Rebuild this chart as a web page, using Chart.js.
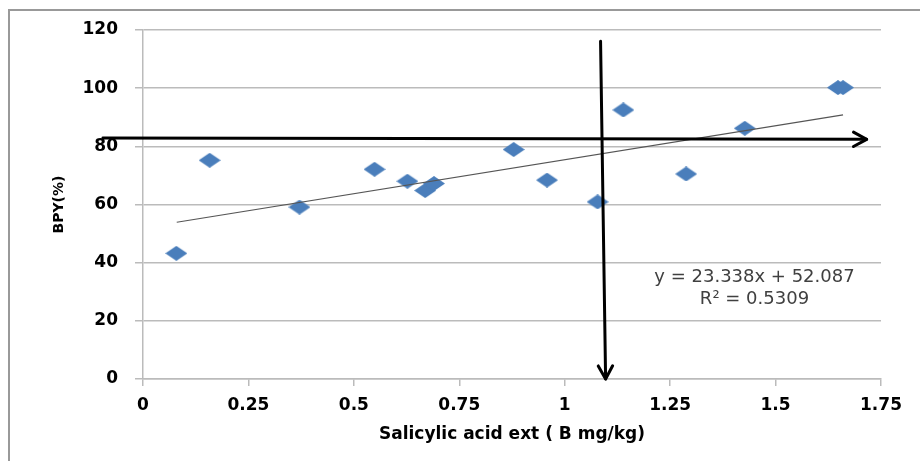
<!DOCTYPE html>
<html lang="en">
<head>
<meta charset="UTF-8" />
<title>BPY vs Salicylic acid ext</title>
<script src="https://cdn.jsdelivr.net/npm/chart.js"></script>
<style>
  html, body { margin: 0; padding: 0; background: #fff; overflow: hidden; }
  #frame { position: absolute; left: 8px; top: 9px; width: 1000px; height: 1000px;
           border-left: 2px solid #999; border-top: 2px solid #999; }
  #wrap { position: absolute; left: 0; top: 0; width: 920px; height: 461px; }
</style>
</head>
<body>
<div id="frame"></div>
<div id="wrap"><canvas id="chartBpy"></canvas></div>

<script>
  // values
  const salicylicB = [0.079, 0.158, 0.371, 0.549, 0.627, 0.669, 0.690, 0.879, 0.958, 1.078, 1.139, 1.288, 1.427, 1.648, 1.660];
  const bpyPercent = [43.2, 75.2, 59.1, 72.1, 68.0, 64.8, 67.2, 78.9, 68.4, 60.9, 92.5, 70.5, 86.2, 100.2, 100.2];

  // trendline end points as drawn (y = 23.338x + 52.087)
  const trendX = [0.08, 1.66];
  const trendY = [53.9, 90.8];

  // hand-drawn arrows (axis units)
  const hArrowX = [-0.095, 1.716];
  const hArrowY = [82.9, 82.4];
  const vArrowX = [1.085, 1.097];
  const vArrowY = [116.1, 0];

  const xTicks = [0, 0.25, 0.5, 0.75, 1, 1.25, 1.5, 1.75];
  const yTicks = [0, 20, 40, 60, 80, 100, 120];

  const equationLines = ['y = 23.338x + 52.087', 'R\u00B2 = 0.5309'];
  const equationAt = { x: 1.45, y: 35 };

  // Excel style diamond marker (a bit wider than tall)
  const diamond = document.createElement('canvas');
  diamond.width = 22; diamond.height = 15;
  const dctx = diamond.getContext('2d');
  dctx.fillStyle = '#4a7ebb';
  dctx.beginPath();
  dctx.moveTo(11, 0); dctx.lineTo(22, 7.5); dctx.lineTo(11, 15); dctx.lineTo(0, 7.5);
  dctx.closePath(); dctx.fill();

  const points = salicylicB.map((x, i) => ({ x: x, y: bpyPercent[i] }));
  const trend = trendX.map((x, i) => ({ x: x, y: trendY[i] }));

  function drawArrow(ctx, x1, y1, x2, y2) {
    const ang = Math.atan2(y2 - y1, x2 - x1);
    const len = 15, spread = 0.5;
    ctx.beginPath();
    ctx.moveTo(x1, y1); ctx.lineTo(x2, y2);
    ctx.stroke();
    ctx.beginPath();
    ctx.moveTo(x2 - len * Math.cos(ang - spread), y2 - len * Math.sin(ang - spread));
    ctx.lineTo(x2, y2);
    ctx.lineTo(x2 - len * Math.cos(ang + spread), y2 - len * Math.sin(ang + spread));
    ctx.stroke();
  }

  const extras = {
    id: 'extras',
    afterDatasetsDraw(chart) {
      const ctx = chart.ctx;
      const xs = chart.scales.x, ys = chart.scales.y;
      ctx.save();
      // equation label
      ctx.fillStyle = '#404040';
      ctx.font = '18px "DejaVu Sans"';
      ctx.textAlign = 'center';
      ctx.textBaseline = 'middle';
      const ex = xs.getPixelForValue(equationAt.x);
      const ey = ys.getPixelForValue(equationAt.y);
      equationLines.forEach((t, i) => ctx.fillText(t, ex, ey + i * 22));
      // arrows
      ctx.strokeStyle = '#000';
      ctx.lineWidth = 3;
      ctx.lineCap = 'round';
      ctx.lineJoin = 'round';
      drawArrow(ctx, xs.getPixelForValue(hArrowX[0]), ys.getPixelForValue(hArrowY[0]),
                     xs.getPixelForValue(hArrowX[1]), ys.getPixelForValue(hArrowY[1]));
      drawArrow(ctx, xs.getPixelForValue(vArrowX[0]), ys.getPixelForValue(vArrowY[0]),
                     xs.getPixelForValue(vArrowX[1]), ys.getPixelForValue(vArrowY[1]));
      ctx.restore();
    }
  };

  const tickFont = { family: '"DejaVu Sans"', size: 17, weight: 'bold' };

  new Chart(document.getElementById('chartBpy').getContext('2d'), {
    type: 'scatter',
    data: {
      datasets: [
        {
          label: 'BPY',
          data: points,
          pointStyle: diamond,
          pointRadius: 8,
          order: 2
        },
        {
          type: 'line',
          label: 'Trend',
          data: trend,
          borderColor: '#555',
          borderWidth: 1.2,
          pointRadius: 0,
          fill: false,
          order: 1
        }
      ]
    },
    options: {
      responsive: true,
      maintainAspectRatio: false,
      animation: false,
      layout: { padding: { top: 30, right: 39, bottom: 0, left: 0 } },
      plugins: { legend: { display: false }, tooltip: { enabled: false } },
      scales: {
        x: {
          type: 'linear',
          min: 0, max: 1.75,
          afterBuildTicks: s => { s.ticks = xTicks.map(v => ({ value: v })); },
          afterFit: s => { s.height = 82; },
          ticks: { font: tickFont, color: '#000', padding: 9, maxRotation: 0,
                   callback: v => String(v) },
          grid: { drawOnChartArea: false, drawTicks: true, tickLength: 7, color: '#bbb', lineWidth: 1.5 },
          border: { color: '#bbb', width: 1.5 },
          title: { display: true, text: 'Salicylic acid ext ( B mg/kg)', color: '#000',
                   font: { family: '"DejaVu Sans"', size: 17, weight: 'bold' },
                   padding: { top: 0, bottom: 16 } }
        },
        y: {
          min: 0, max: 120,
          afterBuildTicks: s => { s.ticks = yTicks.map(v => ({ value: v })); },
          afterFit: s => { s.width = 143; },
          ticks: { font: tickFont, color: '#000', padding: 17 },
          grid: { color: '#bbb', lineWidth: 1.5, tickLength: 8 },
          border: { color: '#bbb', width: 1.5 },
          title: { display: true, text: 'BPY(%)', color: '#000',
                   font: { family: '"DejaVu Sans"', size: 14, weight: 'bold' },
                   padding: { top: 51, bottom: 0 } }
        }
      }
    },
    plugins: [extras]
  });
</script>
</body>
</html>
